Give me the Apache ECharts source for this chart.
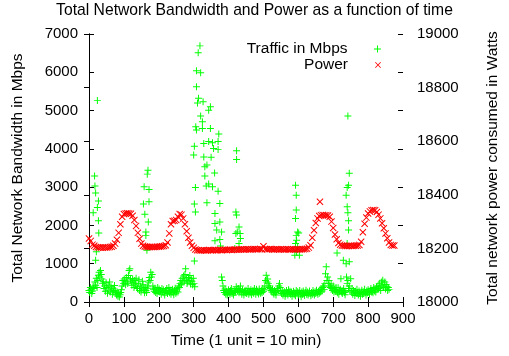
<!DOCTYPE html>
<html>
<head>
<meta charset="utf-8">
<script src="https://cdn.jsdelivr.net/npm/echarts@6/dist/echarts.min.js"></script>
<style>
  html, body { margin: 0; padding: 0; background: #fff; }
  #chart { width: 509px; height: 356px; }
</style>
</head>
<body>
<div id="chart"></div>
<script>
// traffic samples [time, Mbps], everyday level
const trafficBase = [
  [0,300],[2,250],[4,380],[6,330],[8,220],[10,290],[12,410],[14,350],[17,520],[19,440],
  [21,620],[23,380],[25,560],[27,700],[29,780],[31,650],[33,820],[35,720],[37,600],[39,480],
  [41,530],[43,350],[45,420],[47,280],[49,500],[51,380],[53,230],[55,440],[57,310],[59,520],
  [61,260],[63,400],[65,340],[67,200],[69,360],[71,280],[73,430],[75,300],[77,240],[79,180],
  [81,260],[83,150],[85,220],[87,130],[89,190],[91,250],[93,320],[95,420],[97,560],[99,480],
  [101,600],[103,520],[105,450],[107,640],[109,550],[111,480],[113,690],[115,820],[117,870],[119,600],
  [121,520],[123,440],[125,610],[127,500],[129,380],[131,560],[133,470],[135,620],[137,400],[139,350],
  [141,480],[143,580],[145,300],[147,420],[149,260],[151,360],[153,540],[155,450],[157,320],[159,240],
  [161,380],[163,300],[165,250],[167,420],[169,360],[171,520],[173,640],[175,560],[177,780],[179,650],
  [181,720],[183,420],[185,330],[187,280],[189,360],[191,250],[193,310],[195,220],[197,380],[199,290],
  [201,340],[203,260],[205,300],[207,200],[209,350],[211,270],[213,320],[215,240],[217,180],[219,300],
  [221,260],[223,350],[225,220],[227,290],[229,380],[231,240],[233,310],[235,200],[237,270],[239,330],
  [241,250],[243,190],[245,300],[247,360],[249,230],[251,280],[253,340],[255,260],[257,420],[259,380],
  [261,480],[263,560],[265,450],[267,620],[269,520],[271,680],[273,560],[275,720],[277,870],[279,600],
  [281,480],[283,520],[285,640],[287,560],[289,690],[291,470],[293,610],[295,540],[297,450],[299,620],
  [301,480],[303,400],
  [380,650],[382,560],[384,420],[386,300],[388,250],[390,340],[392,200],[394,280],[396,180],[398,230],
  [400,320],[402,260],[404,200],[406,300],[408,350],[410,220],[412,280],[414,180],[416,250],[418,300],
  [420,260],[422,400],[424,330],[426,280],[428,350],[430,240],[432,300],[434,420],[436,270],[438,200],
  [440,320],[442,260],[444,180],[446,290],[448,240],[450,310],[452,220],[454,270],[456,350],[458,200],
  [460,280],[462,240],[464,320],[466,190],[468,260],[470,300],[472,230],[474,350],[476,280],[478,200],
  [480,330],[482,250],[484,290],[486,210],[488,340],[490,260],[492,230],[494,300],[496,250],[498,350],
  [500,280],[502,320],[504,420],[506,560],[508,700],[510,520],[512,600],[514,480],[516,380],[518,420],
  [520,350],[522,300],[524,260],[526,330],[528,240],[530,200],[532,300],[534,250],[536,180],[538,280],
  [540,350],[542,300],[544,420],[546,480],[548,380],[550,260],[552,220],[554,300],[556,180],[558,240],
  [560,270],[562,150],[564,210],[566,300],[568,250],[570,180],[572,320],[574,230],[576,280],[578,200],
  [580,260],[582,150],[584,220],[586,280],[588,190],[590,240],[592,160],[594,300],[596,220],[598,270],
  [600,180],[602,250],[604,300],[606,210],[608,140],[610,260],[612,200],[614,290],[616,230],[618,170],
  [620,250],[622,310],[624,200],[626,260],[628,180],[630,230],[632,290],[634,220],[636,160],[638,250],
  [640,200],[642,300],[644,240],[646,180],[648,270],[650,220],[652,310],[654,250],[656,200],[658,280],
  [660,230],[662,320],[664,260],[666,340],[668,290],[670,380],[672,420],[674,330],[676,480],[678,740],
  [680,920],[682,560],[684,650],[686,480],[688,560],[690,420],[692,380],[694,470],[696,350],[698,300],
  [700,420],[702,260],[704,330],[706,280],[708,380],[710,300],[712,240],[714,370],[716,200],[718,280],
  [720,330],[722,610],[724,260],[726,220],[728,300],[730,350],[732,250],[734,190],[736,280],[738,650],
  [740,480],[742,560],[744,350],[746,420],[748,300],[750,610],[752,260],[754,350],[756,200],[758,300],
  [760,240],[762,170],[764,280],[766,220],[768,330],[770,250],[772,180],[774,290],[776,230],[778,150],
  [780,260],[782,310],[784,200],[786,270],[788,220],[790,330],[792,250],[794,180],[796,290],[798,240],
  [800,320],[802,270],[804,200],[806,300],[808,350],[810,260],[812,310],[814,240],[816,380],[818,290],
  [820,340],[822,260],[824,390],[826,330],[828,420],[830,350],[832,480],[834,400],[836,300],[838,520],
  [840,440],[842,570],[844,380],[846,460],[848,520],[850,340],[852,450],[854,400],[856,300],[858,380],
  [860,330]
];

// traffic bursts [time, Mbps]
const trafficPeaks = [
  [24,5260],[16,3290],[17,3030],[19,2850],[27,2640],[24,2470],[12,2330],[27,2120],[28,1800],[21,1310],[19,1090],
  [169,3440],[167,3340],[158,3010],[172,2940],[156,2560],[172,2620],[160,2290],[170,2090],[163,1830],[163,1740],[166,1350],
  [300,3840],[318,6690],[313,6510],[308,6040],[320,5990],[308,5620],[314,5320],[327,5230],[311,5200],[348,5100],
  [343,5010],[320,4860],[325,4710],[306,4580],[325,4530],[308,4490],[348,4530],[372,4390],[329,4140],[343,4190],
  [354,4160],[370,4190],[302,4070],[357,4010],[370,3980],[423,3950],[423,3720],[329,3790],[350,3780],[338,3580],
  [332,3530],[360,3370],[332,3290],[343,3080],[336,3030],[354,3010],[370,2890],[305,2990],[338,2590],[375,2570],
  [302,2560],[305,2350],[361,2310],[421,2350],[423,2270],[361,2050],[375,2090],[430,1960],[425,1830],[366,1880],
  [380,1830],[433,1790],[421,1790],[361,1600],[375,1630],[434,1660],[430,1530],[377,1460],[418,1400],[302,1070],
  [592,3050],[594,2790],[592,2180],[594,1740],[592,1530],[590,1220],
  [594,2400],[598,1830],[601,1800],[595,1610],[598,1440],[595,1310],[603,1220],
  [711,1280],[729,1090],
  [742,4860],[746,3360],[744,3050],[740,2990],[737,2790],[740,2490],[742,2330],[744,2120],[744,1880],[740,1530],
  [737,1000],[746,1050]
];

// power samples [time, Watts]
const power = [
  [0,18237],[5,18228],[10,18214],[15,18210],[20,18205],[25,18204],[30,18203],[35,18203],[40,18202],[45,18203],
  [50,18203],[55,18204],[60,18205],[65,18206],[70,18210],[75,18218],[80,18232],[85,18258],[90,18290],[95,18318],
  [100,18328],[105,18330],[110,18331],[115,18330],[120,18329],[125,18322],[130,18306],[135,18284],[140,18258],[145,18236],
  [150,18218],[155,18210],[160,18207],[165,18206],[170,18205],[175,18205],[180,18205],[185,18205],[190,18205],[195,18206],
  [200,18206],[205,18207],[210,18208],[215,18209],[220,18212],[225,18222],[230,18256],[235,18290],[240,18302],[245,18303],
  [250,18306],[255,18318],[260,18328],[265,18326],[270,18312],[275,18290],[280,18264],[285,18240],[290,18222],[295,18210],
  [300,18202],[305,18196],[310,18193],[315,18193],[320,18192],[325,18193],[330,18193],[335,18192],[340,18193],[345,18194],
  [350,18193],[355,18193],[360,18194],[365,18193],[370,18194],[375,18194],[380,18193],[385,18194],[390,18195],[395,18194],
  [400,18195],[405,18195],[410,18194],[415,18195],[420,18196],[425,18195],[430,18196],[435,18196],[440,18197],[445,18196],
  [450,18197],[455,18197],[460,18196],[465,18197],[470,18197],[475,18198],[480,18197],[485,18197],[490,18198],[495,18197],
  [500,18208],[505,18198],[510,18197],[515,18197],[520,18198],[525,18197],[530,18196],[535,18197],[540,18197],[545,18196],
  [550,18197],[555,18197],[560,18196],[565,18197],[570,18197],[575,18196],[580,18197],[585,18197],[590,18196],[595,18197],
  [600,18197],[605,18196],[610,18197],[615,18197],[620,18198],[625,18199],[630,18203],[635,18212],[640,18240],[645,18268],
  [650,18295],[655,18312],[660,18321],[662,18374],[665,18324],[670,18325],[675,18324],[680,18324],[685,18323],[690,18318],
  [695,18300],[700,18276],[705,18252],[710,18234],[715,18220],[720,18214],[725,18211],[730,18210],[735,18209],[740,18209],
  [745,18209],[750,18210],[755,18209],[760,18210],[765,18210],[770,18211],[775,18213],[780,18225],[785,18260],[790,18292],
  [795,18315],[800,18330],[805,18338],[810,18342],[815,18343],[820,18342],[825,18336],[830,18326],[835,18312],[840,18294],
  [845,18275],[850,18256],[855,18238],[860,18222],[865,18213],[870,18211],[875,18211]
];

const plusIcon = 'path://M0,4.3L10,4.3L10,5.7L0,5.7Z M4.3,0L5.7,0L5.7,10L4.3,10Z';
const crossIcon = 'path://M0,1L1,0L10,9L9,10Z M9,0L10,1L1,10L0,9Z';
const font = 'Liberation Sans, Arial, sans-serif';

const chart = echarts.init(document.getElementById('chart'));

const nameText = { color: '#000', fontFamily: font, fontSize: 15.5 };
const tickText = { color: '#000', fontFamily: font, fontSize: 15, formatter: v => String(v) };
const boxLine = { show: true, lineStyle: { color: '#000', width: 1 } };
const inTick = { inside: true, length: 5, lineStyle: { color: '#000' } };

chart.setOption({
  animation: false,
  backgroundColor: '#fff',
  title: {
    text: 'Total Network Bandwidth and Power as a function of time',
    left: 'center',
    top: -2,
    textStyle: { fontFamily: font, fontSize: 15.7, fontWeight: 'normal', color: '#000' }
  },
  grid: { left: 89, right: 92, top: 34, bottom: 54 },
  legend: [
    {
      data: [{ name: 'Traffic in Mbps', icon: plusIcon }],
      right: 123, top: 36, align: 'right',
      itemWidth: 50, itemHeight: 7,
      textStyle: { fontFamily: font, fontSize: 15.5, color: '#000' }
    },
    {
      data: [{ name: 'Power', icon: crossIcon }],
      right: 123, top: 52, align: 'right',
      itemWidth: 50, itemHeight: 6,
      textStyle: { fontFamily: font, fontSize: 15.5, color: '#000' }
    }
  ],
  xAxis: [
    {
      type: 'value', min: 0, max: 900, interval: 100,
      name: 'Time (1 unit = 10 min)', nameLocation: 'middle', nameGap: 31,
      nameTextStyle: nameText,
      axisLine: boxLine,
      axisTick: inTick,
      axisLabel: Object.assign({ margin: 9 }, tickText),
      splitLine: { show: false }
    },
    {
      type: 'value', min: 0, max: 900, interval: 100, position: 'top',
      axisLine: boxLine,
      axisTick: inTick,
      axisLabel: { show: false },
      splitLine: { show: false }
    }
  ],
  yAxis: [
    {
      type: 'value', min: 0, max: 7000, interval: 1000,
      name: 'Total Network Bandwidth in Mbps', nameLocation: 'middle', nameGap: 63,
      nameTextStyle: nameText,
      axisLine: boxLine,
      axisTick: inTick,
      axisLabel: Object.assign({ margin: 11 }, tickText),
      splitLine: { show: false }
    },
    {
      type: 'value', min: 18000, max: 19000, interval: 200, position: 'right',
      name: 'Total network power consumed in Watts', nameLocation: 'middle', nameGap: 82, nameRotate: 90,
      nameTextStyle: nameText,
      axisLine: boxLine,
      axisTick: inTick,
      axisLabel: Object.assign({ margin: 14 }, tickText),
      splitLine: { show: false }
    },
    {
      type: 'value', min: 0, max: 7000, interval: 1000, position: 'right',
      axisLine: { show: false },
      axisTick: inTick,
      axisLabel: { show: false },
      splitLine: { show: false }
    }
  ],
  series: [
    {
      name: 'Traffic in Mbps',
      type: 'scatter',
      xAxisIndex: 0, yAxisIndex: 0,
      symbol: plusIcon, symbolSize: 7,
      itemStyle: { color: '#00ff00', opacity: 1 },
      data: trafficBase.concat(trafficPeaks)
    },
    {
      name: 'Power',
      type: 'scatter',
      xAxisIndex: 0, yAxisIndex: 1,
      symbol: crossIcon, symbolSize: 7,
      itemStyle: { color: '#ff0000', opacity: 1 },
      data: power
    }
  ]
});
</script>
</body>
</html>
